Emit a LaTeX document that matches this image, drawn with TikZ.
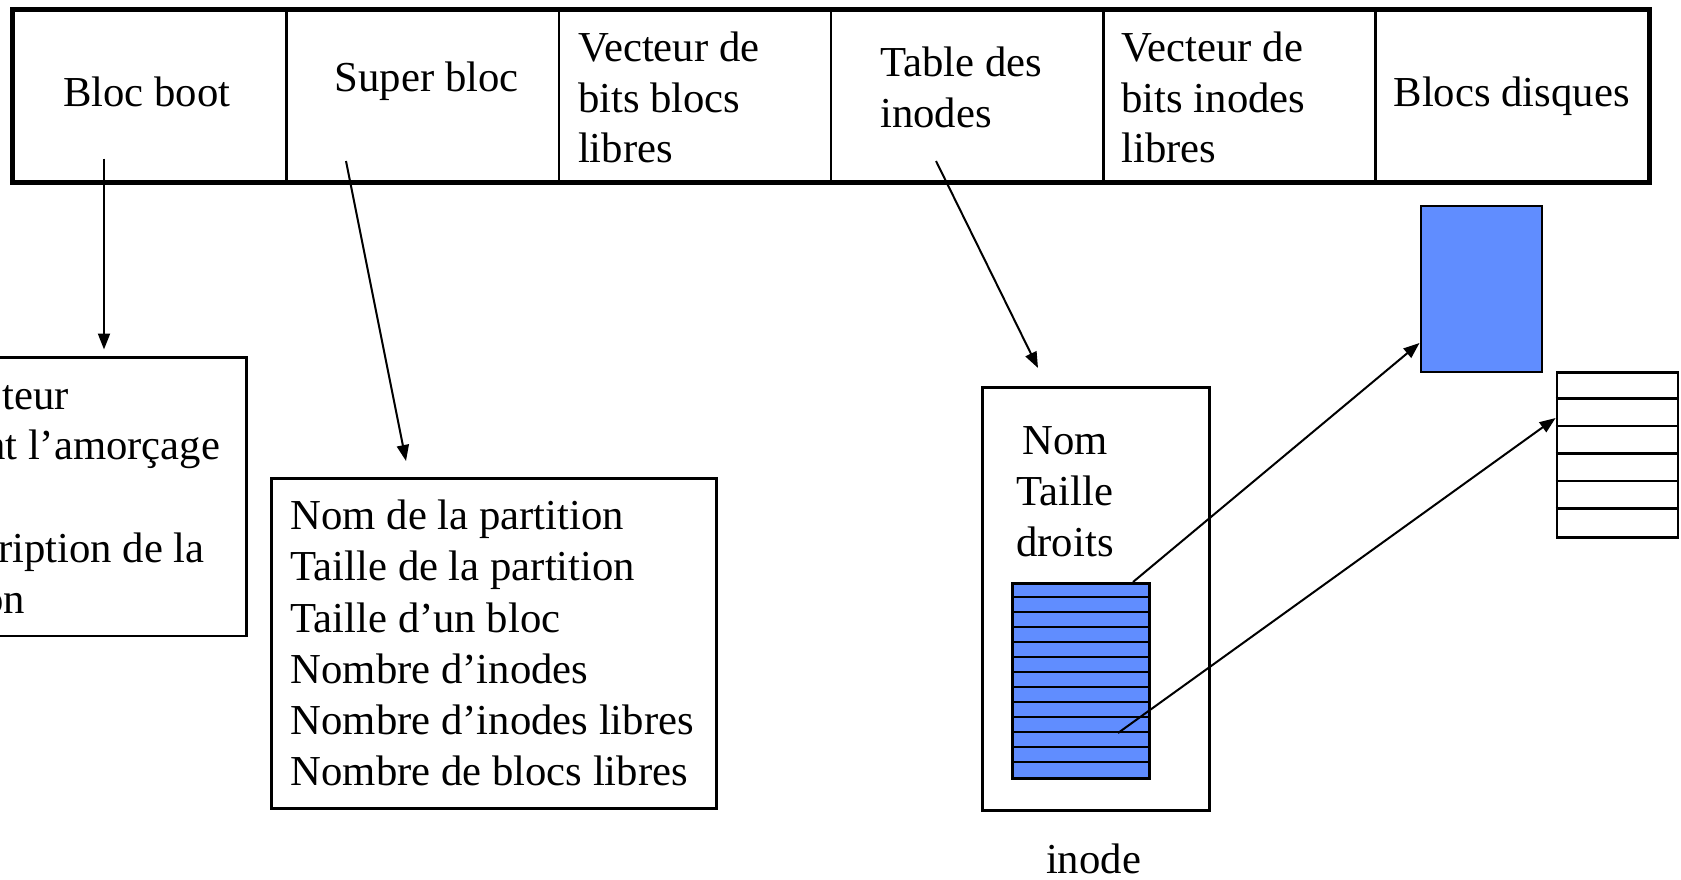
\documentclass[tikz,border=0pt]{standalone}
\usepackage{fontspec}
\setmainfont{Liberation Serif}
\usetikzlibrary{arrows.meta}
\definecolor{blockblue}{RGB}{96,141,255}
\begin{document}
\begin{tikzpicture}[x=1pt,y=-1pt,
  txt/.style={inner sep=0pt, font=\fontsize{42.7}{51}\selectfont},
  cell/.style={draw, line width=2.5pt, anchor=north west, minimum width=272.3pt, minimum height=170.4pt, inner sep=0pt},
  box/.style={draw, line width=2.5pt, inner sep=0pt},
  arr/.style={-{Triangle[length=16pt,width=12pt]}, line width=2pt}]
\useasboundingbox (0,0) rectangle (1681,880);

% top bar cells
\foreach \i/\nm in {0/c1,1/c2,2/c3,3/c4,4/c5,5/c6}
  \node[cell] (\nm) at ({12.9+\i*272.3},9.6) {};
\draw[line width=5pt] (c1.north west) rectangle (c6.south east);

\node[txt, anchor=base] (t1) at (146.9,107) {Bloc boot};
\node[txt, anchor=base] (t2) at (426.7,92) {Super bloc};
\node[txt, anchor=base west] (t3a) at (577.8,61.7) {Vecteur de};
\node[txt, anchor=base west] (t3b) at (577.8,112.2) {bits blocs};
\node[txt, anchor=base west] (t3c) at (577.8,162.7) {libres};
\node[txt, anchor=base west] (t4a) at (880,76.7) {Table des};
\node[txt, anchor=base west] (t4b) at (880,127.2) {inodes};
\node[txt, anchor=base west] (t5a) at (1121.4,61.7) {Vecteur de};
\node[txt, anchor=base west] (t5b) at (1121.4,112.2) {bits inodes};
\node[txt, anchor=base west] (t5c) at (1121.4,162.7) {libres};
\node[txt, anchor=base] (t6) at (1511.6,107) {Blocs disques};

% boot box (partly off page)
\node[box, anchor=north east, minimum width=360pt, minimum height=278.7pt] (bootbox) at (247.7,356) {};
\node[txt, anchor=base west] (b1) at (2,409) {teur};
\node[txt, anchor=base west] (b2) at (-16,459.5) {nt l’amorçage};
\node[txt, anchor=base west] (b4) at (-2,562.5) {ription de la};
\node[txt, anchor=base west] (b5) at (-18,613.5) {on};

% super bloc box
\node[box, anchor=north west, minimum width=445pt, minimum height=330pt] (sbox) at (270,477) {};
\node[txt, anchor=base west] (s1) at (290.5,529) {Nom de la partition};
\node[txt, anchor=base west] (s2) at (290.5,580.5) {Taille de la partition};
\node[txt, anchor=base west] (s3) at (290.5,632) {Taille d’un bloc};
\node[txt, anchor=base west] (s4) at (290.5,683) {Nombre d’inodes};
\node[txt, anchor=base west] (s5) at (290.5,734) {Nombre d’inodes libres};
\node[txt, anchor=base west] (s6) at (290.5,785.5) {Nombre de blocs libres};

% inode box
\node[box, anchor=north west, minimum width=227pt, minimum height=423pt] (ibox) at (981,386) {};
\node[txt, anchor=base] (i1) at (1065,454) {Nom};
\node[txt, anchor=base] (i2) at (1065,505.5) {Taille};
\node[txt, anchor=base] (i3) at (1065,556) {droits};
\node[box, fill=blockblue, anchor=north west, minimum width=137pt, minimum height=195pt] (itab) at (1011,582) {};
\foreach \k in {1,...,12}
  \draw[line width=2.5pt] (1011,{582+\k*15}) -- (1148,{582+\k*15});
\node[txt, anchor=base] (ilab) at (1093.5,873.5) {inode};

% disk blocks
\node[box, fill=blockblue, anchor=north west, minimum width=121pt, minimum height=166pt] (dblue) at (1419.5,204.8) {};
\node[box, anchor=north west, minimum width=121pt, minimum height=165pt] (dlist) at (1555.6,371) {};
\foreach \k in {1,...,5}
  \draw[line width=2.5pt] (1555.6,{371+\k*27.5}) -- (1676.7,{371+\k*27.5});

% arrow endpoints
\coordinate (bootsrc) at (104,158.7);
\coordinate (boottip) at (104,349.5);
\coordinate (supsrc) at (346,161);
\coordinate (suptip) at (406,461);
\coordinate (inosrc) at (936,161);
\coordinate (inotip) at (1038,368);
\coordinate (p1src) at (1133,582);
\coordinate (p1tip) at (1419.5,343);
\coordinate (p2src) at (1118,733);
\coordinate (p2tip) at (1555.6,418);

\draw[arr] (bootsrc) -- (boottip);
\draw[arr] (supsrc) -- (suptip);
\draw[arr] (inosrc) -- (inotip);
\draw[arr] (p1src) -- (p1tip);
\draw[arr] (p2src) -- (p2tip);
\end{tikzpicture}
\end{document}
